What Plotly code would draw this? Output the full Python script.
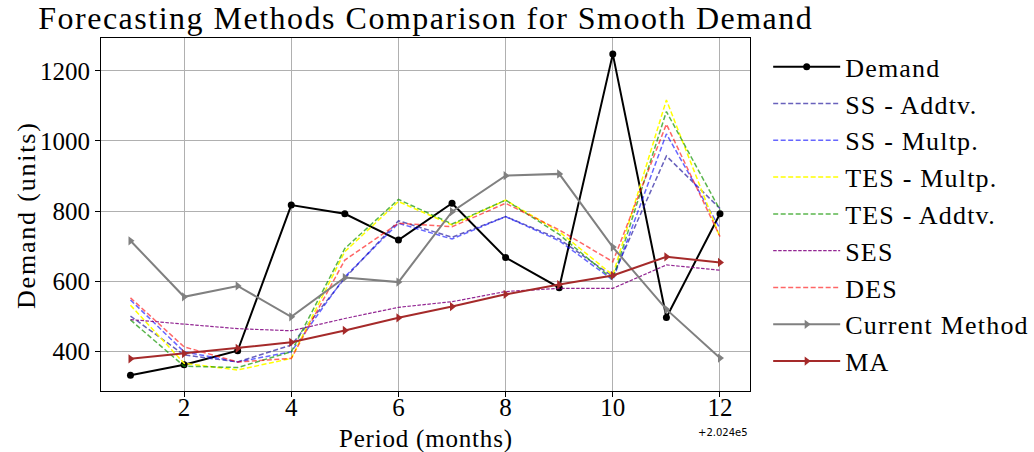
import plotly.graph_objects as go

periods = [202401, 202402, 202403, 202404, 202405, 202406, 202407, 202408, 202409, 202410, 202411, 202412]
tick_vals = [202402, 202404, 202406, 202408, 202410, 202412]
tick_text = ["2", "4", "6", "8", "10", "12"]
y_ticks = [400, 600, 800, 1000, 1200]

demand = [331, 361, 401, 817, 792, 717, 822, 667, 581, 1248, 496, 792]
ss_addtv = [500, 389, 369, 417, 608, 772, 725, 784, 720, 613, 957, 807]
ss_multp = [546, 398, 369, 398, 612, 765, 720, 784, 715, 603, 1020, 750]
tes_multp = [531, 365, 346, 379, 684, 827, 760, 831, 741, 617, 1117, 725]
tes_addtv = [489, 357, 353, 398, 693, 833, 763, 831, 733, 605, 1084, 803]
ses = [490, 476, 464, 458, 493, 525, 541, 570, 579, 579, 646, 631]
des = [552, 412, 369, 379, 660, 765, 755, 822, 746, 655, 1048, 727]
current_method = [715, 555, 586, 498, 610, 597, 798, 901, 906, 697, 519, 380]
ma = [378, 393, 408, 425, 459, 495, 527, 562, 590, 616, 669, 653]

FONT = "Liberation Serif"


def spaced(text, px):
    return f'<span style="letter-spacing:{px}px">{text}</span>'


fig = go.Figure()


def add(name, y, color, width, dash="solid", marker=None, msize=7):
    kw = dict(x=periods, y=y, name=spaced(name, 1.2), legendgroup=name,
              line=dict(color=color, width=width, dash=dash))
    if marker:
        kw["mode"] = "lines+markers"
        kw["marker"] = dict(symbol=marker, size=msize, color=color)
    else:
        kw["mode"] = "lines"
    fig.add_trace(go.Scatter(**kw))


add("Demand", demand, "black", 2, marker="circle", msize=7)
add("SS - Addtv.", ss_addtv, "rgba(40,30,160,0.7)", 1.5, dash="5px,2.5px")
add("SS - Multp.", ss_multp, "rgba(0,0,255,0.6)", 1.5, dash="5px,2.5px")
add("TES - Multp.", tes_multp, "rgba(255,255,0,1)", 1.5, dash="5px,2.5px")
add("TES - Addtv.", tes_addtv, "rgba(20,150,0,0.7)", 1.5, dash="5px,2.5px")
add("SES", ses, "rgba(128,0,128,0.85)", 1.2, dash="3.5px,1.5px")
add("DES", des, "rgba(255,0,0,0.6)", 1.5, dash="5px,2.5px")
add("Current Method", current_method, "gray", 2, marker="triangle-right", msize=8)
add("MA", ma, "#a52a2a", 2, marker="triangle-right", msize=8)

axis_common = dict(
    showline=True, linecolor="black", linewidth=1, mirror=True,
    ticks="outside", ticklen=5, tickcolor="black",
    showgrid=True, gridcolor="#b0b0b0", gridwidth=1,
    zeroline=False,
    tickfont=dict(family=FONT, size=25, color="black"),
)

fig.update_layout(
    width=1034, height=452,
    margin=dict(l=101, r=284, t=38, b=61, autoexpand=False),
    paper_bgcolor="white", plot_bgcolor="white",
    font=dict(family=FONT, color="black"),
    title=dict(text=spaced("Forecasting Methods Comparison for Smooth Demand", 1.5),
               font=dict(family=FONT, size=32, color="black"),
               x=0.037, xanchor="left", xref="container",
               y=1, yanchor="top", yref="container", pad=dict(t=7)),
    xaxis=dict(range=[202400.45, 202412.56], tickvals=tick_vals, ticktext=tick_text,
               ticklabelstandoff=-11, **axis_common),
    yaxis=dict(range=[286, 1294], tickvals=y_ticks, **axis_common),
    legend=dict(x=1.028, xanchor="left", y=0.985, yanchor="top",
                font=dict(family=FONT, size=26, color="black"),
                traceorder="grouped", tracegroupgap=0, maxheight=440,
                bgcolor="rgba(0,0,0,0)", itemwidth=67),
    showlegend=True,
)

fig.add_annotation(text=spaced("Period (months)", 0.8), xref="paper", yref="paper",
                   x=0.5, y=-0.135, xanchor="center", yanchor="middle", showarrow=False,
                   font=dict(family=FONT, size=25, color="black"))
fig.add_annotation(text=spaced("Demand (units)", 1.8), xref="paper", yref="paper",
                   x=-0.114, y=0.4986, xanchor="center", yanchor="middle", showarrow=False,
                   textangle=-90, font=dict(family=FONT, size=26, color="black"))

fig.add_annotation(text="+2.024e5", xref="x", yref="paper", x=202412.05, y=0,
                   yshift=-34, showarrow=False, xanchor="center", yanchor="top",
                   font=dict(family="DejaVu Sans", size=10, color="black"))

fig.write_html("out.html")
